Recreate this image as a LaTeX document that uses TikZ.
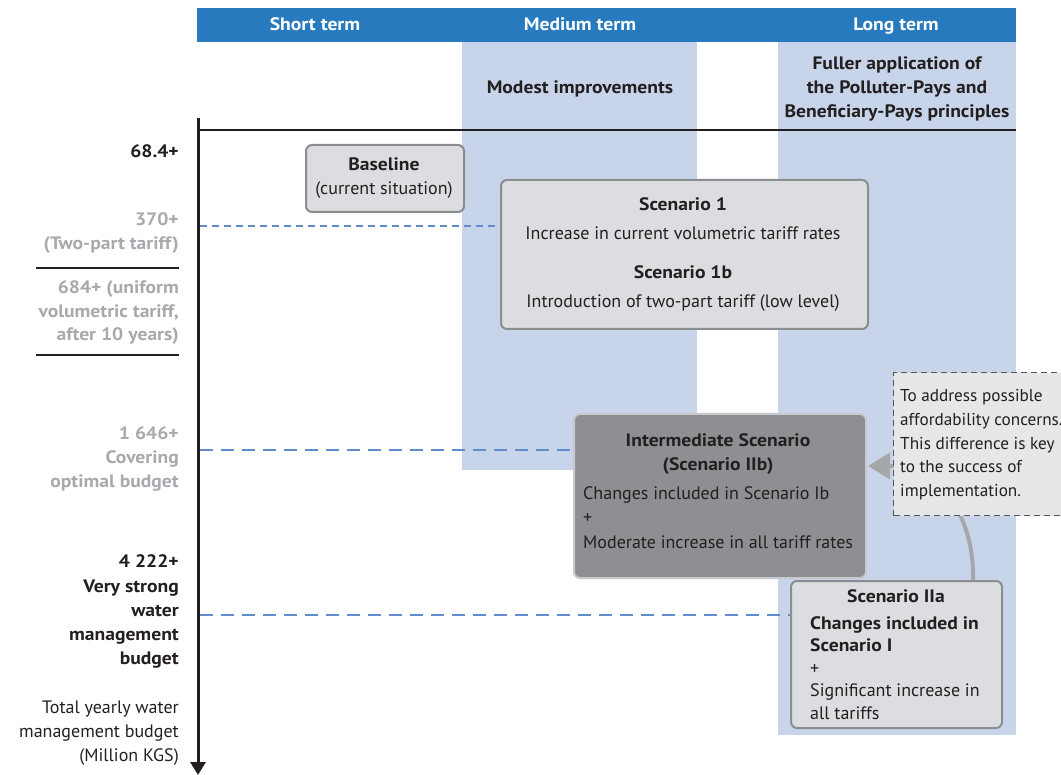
\documentclass[tikz,border=0pt]{standalone}
\usepackage{fontspec}
\setmainfont{PT Sans}[BoldFeatures={FakeStretch=1.09}]
\usetikzlibrary{arrows.meta}
\definecolor{hdrblue}{RGB}{40,122,190}
\definecolor{colblue}{RGB}{200,212,234}
\definecolor{boxfill}{RGB}{220,221,224}
\definecolor{boxline}{RGB}{140,141,145}
\definecolor{interfill}{RGB}{142,143,147}
\definecolor{interline}{RGB}{200,201,204}
\definecolor{callfill}{RGB}{230,231,233}
\definecolor{callline}{RGB}{85,85,85}
\definecolor{arrgray}{RGB}{166,167,170}
\definecolor{dashblue}{RGB}{95,140,204}
\definecolor{lblgray}{RGB}{167,169,172}
\definecolor{ink}{RGB}{35,31,32}
\tikzset{
  txt/.style={inner sep=0pt, anchor=base, text=ink, font=\fontsize{18}{24}\selectfont},
  txtl/.style={txt, anchor=base west},
  ctxt/.style={txtl, font=\fontsize{17.2}{24}\selectfont},
  lbl/.style={txt, anchor=base east},
  glbl/.style={lbl, text=lblgray, font=\fontsize{18}{24}\selectfont\bfseries},
  blbl/.style={lbl, font=\fontsize{18}{24}\selectfont\bfseries},
  hdr/.style={txt, text=white, font=\fontsize{18}{24}\selectfont\bfseries},
  bf/.style={txt, font=\fontsize{18}{24}\selectfont\bfseries},
  bfl/.style={txtl, font=\fontsize{18}{24}\selectfont\bfseries},
  scbox/.style={draw=boxline, fill=boxfill, line width=2pt, rounded corners=6pt, inner sep=0pt, anchor=north west},
  ibox/.style={draw=interline, fill=interfill, line width=2pt, rounded corners=6pt, inner sep=0pt, anchor=north west},
  cbox/.style={draw=callline, fill=callfill, line width=1.2pt, dash pattern=on 6pt off 4pt, inner sep=0pt, anchor=north west},
  sdash/.style={draw=dashblue, line width=2pt, dash pattern=on 7pt off 5pt},
  ldash/.style={draw=dashblue, line width=2pt, dash pattern=on 13pt off 8pt},
}
\begin{document}
\begin{tikzpicture}[x=1pt,y=-1pt]
\useasboundingbox (0,0) rectangle (1061,775);
% columns
\fill[colblue] (462,42) rectangle (697,470);
\fill[colblue] (778,42) rectangle (1016,735);
% header
\node[fill=hdrblue, minimum width=819pt, minimum height=34pt, inner sep=0pt, anchor=north west] (hdrbar) at (197,8) {};
\node[hdr] (hs) at (315,31) {Short term};
\node[hdr] (hm) at (580,31) {Medium term};
\node[hdr] (hl) at (896,31) {Long term};
\node[bf] (modest) at (580,94) {Modest improvements};
\node[bf] (f1) at (897,70) {Fuller application of};
\node[bf] (f2) at (897,94) {the Polluter-Pays and};
\node[bf] (f3) at (897,118) {Beneficiary-Pays principles};
% axis
\coordinate (axtop) at (198,118);
\coordinate (axbot) at (198,775);
\coordinate (hl0) at (197,130);
\coordinate (hl1) at (1016,130);
\draw[ink, line width=2.5pt] (hl0) -- (hl1);
% left labels
\node[blbl] (a1) at (179,158) {68.4+};
\node[glbl] (b1) at (179,226) {370+};
\node[glbl] (b2) at (179,250) {(Two-part tariff)};
\coordinate (s1a) at (36,268); \coordinate (s1b) at (179,268);
\draw[ink, line width=1.6pt] (s1a) -- (s1b);
\node[glbl] (c1) at (179,294) {684+ (uniform};
\node[glbl] (c2) at (179,318) {volumetric tariff,};
\node[glbl] (c3) at (179,341) {after 10 years)};
\coordinate (s2a) at (36,355); \coordinate (s2b) at (179,355);
\draw[ink, line width=1.6pt] (s2a) -- (s2b);
\node[glbl] (d1) at (179,440) {1 646+};
\node[glbl] (d2) at (179,464) {Covering};
\node[glbl] (d3) at (179,488) {optimal budget};
\node[blbl] (e1) at (179,568) {4 222+};
\node[blbl] (e2) at (179,592) {Very strong};
\node[blbl] (e3) at (179,616) {water};
\node[blbl] (e4) at (179,640) {management};
\node[blbl] (e5) at (179,664) {budget};
\node[lbl] (t1) at (179,713) {Total yearly water};
\node[lbl] (t2) at (179,737) {management budget};
\node[lbl] (t3) at (179,761) {(Million KGS)};
% boxes
\node[scbox, minimum width=158pt, minimum height=67pt] (base) at (305,144) {};
\node[bf] (base1) at (384,171) {Baseline};
\node[txt] (base2) at (384,195) {(current situation)};
\node[scbox, minimum width=367pt, minimum height=149pt] (sc1) at (500,179) {};
\node[bf] (sc1a) at (683,211) {Scenario 1};
\node[txt] (sc1b) at (683,240) {Increase in current volumetric tariff rates};
\node[bf] (sc1c) at (683,279) {Scenario 1b};
\node[txt] (sc1d) at (683,308) {Introduction of two-part tariff (low level)};
% dashed level lines
\coordinate (dl1) at (200,226);
\coordinate (dl2) at (200,450);
\coordinate (dl3) at (200,615);
\draw[sdash] (dl1) -- (dl1 -| sc1.west);
% gray arrow (behind callout)
\coordinate (arrstart) at (973,582);
\coordinate (arrtip) at (868,466);
\draw[arrgray, line width=4pt, -{Triangle[width=26pt,length=22pt]}] (arrstart) .. controls (975,510) and (935,466) .. (arrtip);
\node[ibox, minimum width=292pt, minimum height=164pt] (inter) at (573,413) {};
\draw[ldash] (dl2) -- (dl2 -| inter.west);
\node[bf, text=ink] (i1) at (718,447) {Intermediate Scenario};
\node[bf, text=ink] (i2) at (718,471) {(Scenario IIb)};
\node[txtl] (i3) at (583,500) {Changes included in Scenario Ib};
\node[txtl] (i4) at (583,524) {+};
\node[txtl] (i5) at (583,548) {Moderate increase in all tariff rates};
% callout
\node[cbox, minimum width=180pt, minimum height=143pt] (call) at (893,372) {};
\node[ctxt] (k1) at (900,402) {To address possible};
\node[ctxt] (k2) at (900,426) {affordability concerns.};
\node[ctxt] (k3) at (900,450) {This difference is key};
\node[ctxt] (k4) at (900,473) {to the success of};
\node[ctxt] (k5) at (900,497) {implementation.};
% scenario IIa
\node[scbox, minimum width=211pt, minimum height=147pt] (s2a) at (790,580) {};
\draw[ldash] (dl3) -- (dl3 -| s2a.west);
\node[bf] (p1) at (896,602) {Scenario IIa};
\node[bfl] (p2) at (810,629) {Changes included in};
\node[bfl] (p3) at (810,651) {Scenario I};
\node[txtl] (p4) at (810,674) {+};
\node[txtl] (p5) at (810,696) {Significant increase in};
\node[txtl] (p6) at (810,719) {all tariffs};
% axis on top
\draw[ink, line width=3pt, -{Triangle[width=15pt,length=13pt]}] (axtop) -- (axbot);
\end{tikzpicture}
\end{document}
